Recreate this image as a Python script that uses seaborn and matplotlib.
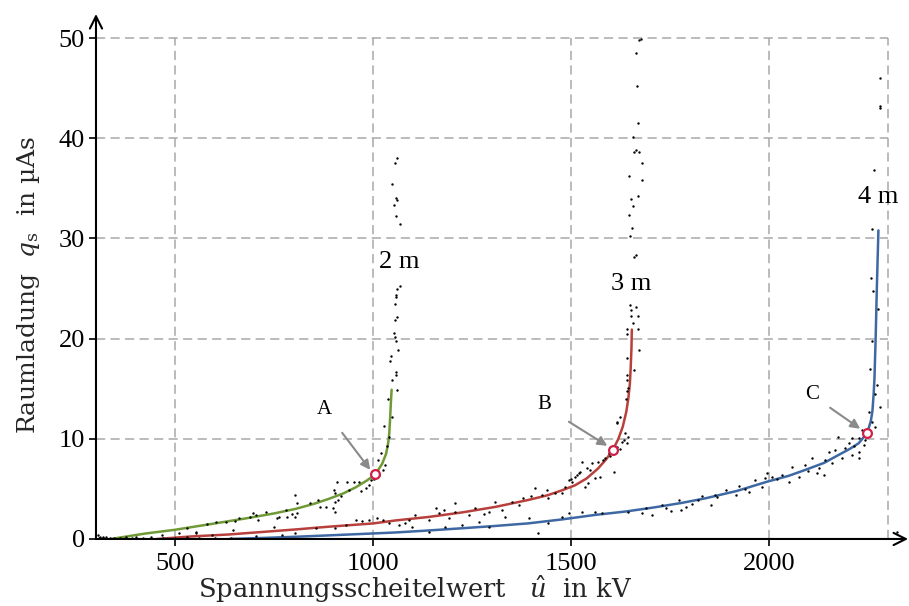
import matplotlib
matplotlib.use("Agg")
import matplotlib.pyplot as plt
import seaborn as sns
import pandas as pd

# Fitted characteristic curves q_s(u) for the three gap distances
green_x = [338, 426, 500, 552, 600, 678, 750, 804, 850, 888, 925, 956, 985, 1006,
           1023, 1033, 1038, 1041, 1043, 1045, 1047]
green_y = [0.0, 0.55, 0.92, 1.25, 1.55, 2.05, 2.55, 3.0, 3.5, 4.0, 4.55, 5.15, 5.85, 6.45,
           7.5, 8.5, 9.5, 10.5, 11.9, 13.5, 14.9]

red_x = [455, 540, 636, 720, 804, 880, 931, 1000, 1057, 1141, 1225, 1309, 1393, 1440,
         1477, 1510, 1540, 1569, 1590, 1606, 1620, 1631, 1640, 1645, 1649, 1651, 1653, 1654]
red_y = [0.0, 0.25, 0.45, 0.7, 0.95, 1.2, 1.35, 1.55, 1.85, 2.2, 2.65, 3.2, 3.9, 4.35,
         4.85, 5.35, 6.05, 7.05, 8.0, 8.88, 10.0, 11.2, 12.7, 14.0, 15.5, 17.0, 19.0, 20.9]

blue_x = [636, 720, 804, 900, 1000, 1057, 1141, 1225, 1309, 1393, 1477, 1561, 1640, 1712,
          1780, 1840, 1920, 1996, 2050, 2092, 2140, 2176, 2205, 2227, 2249, 2258, 2262,
          2265, 2267, 2270, 2273, 2277]
blue_y = [0.0, 0.1, 0.22, 0.38, 0.55, 0.65, 0.85, 1.07, 1.3, 1.56, 1.95, 2.4, 2.75, 3.16,
          3.6, 4.06, 4.8, 5.72, 6.3, 6.89, 7.6, 8.38, 9.0, 9.55, 10.6, 11.8, 12.8,
          14.5, 16.0, 20.0, 25.0, 30.8]

# Measured single discharges (u in kV, q_s in uAs)
meas_2m_x = [1060, 1056, 1047, 1058, 1061, 1052, 1058, 1068, 1068, 1061, 1057, 1057, 1056,
             1060, 1055, 1054, 1055, 1057, 1064, 1046, 1044, 1057, 1057, 1047, 1061, 1037,
             1048, 1028, 1019, 1013, 1030, 1025, 1016, 1008, 989, 983, 964, 952, 935, 910,
             901, 904, 912, 905, 899, 880, 867, 905, 804, 809, 809, 803, 796, 783, 758,
             762, 750, 729, 704, 697, 710, 661, 645, 628, 603, 552, 510, 468, 401, 317,
             304, 308, 310, 318, 325, 335, 345, 360, 375, 390,
             1035, 1040, 1003, 995, 970, 940, 920, 860, 840, 780, 690, 650, 580, 530]
meas_2m_y = [38.0, 37.5, 35.4, 34.0, 33.8, 33.3, 32.2, 31.4, 25.3, 25.0, 24.4, 24.2, 23.5,
             22.2, 21.9, 20.6, 20.2, 19.8, 18.9, 18.3, 17.8, 16.7, 16.4, 15.9, 14.9, 14.0,
             12.2, 11.3, 8.55, 7.88, 7.38, 6.88, 6.39, 6.16, 5.39, 5.06, 5.72, 5.72, 5.72,
             5.72, 4.89, 4.56, 3.89, 3.72, 3.06, 3.23, 3.16, 2.73, 4.39, 3.56, 2.56, 2.23,
             2.5, 2.23, 2.06, 2.23, 1.23, 2.73, 2.39, 2.63, 1.9, 2.06, 0.9, 1.73, 1.73,
             0.73, 0.56, 0.4, 0.17, 0.23, 0.4, 0.07, 0.15, 0.1, 0.2, 0.08, 0.12, 0.1,
             0.15, 0.08,
             9.3, 10.2, 6.0, 5.9, 4.8, 4.9, 4.3, 3.9, 3.6, 2.9, 2.2, 1.8, 1.5, 1.1]

meas_3m_x = [905, 931, 956, 973, 989, 1010, 1025, 1040, 804, 771, 704, 594, 552, 855,
             1616, 1637, 1645, 1628, 1641, 1616, 1595, 1586, 1569, 1553, 1540, 1527, 1523,
             1561, 1574, 1609, 1544, 1536, 1515, 1502, 1494, 1485, 1439, 1427, 1410, 1380,
             1351, 1309, 1326, 1258, 1208, 1208, 1166, 1158, 1107, 1090, 1065, 1082, 1141,
             1191, 1242, 1292, 1443, 1477, 1511,
             1676, 1672, 1665, 1668, 1669, 1656, 1660, 1665, 1671, 1680, 1648, 1680, 1669,
             1652, 1658, 1648, 1654, 1650, 1664, 1659, 1649, 1665, 1653, 1653, 1669, 1657,
             1643, 1670, 1641, 1672, 1641, 1660, 1642, 1643, 1645, 1643, 1638, 1624, 1617,
             420, 440, 470, 500, 530,
             1500, 1520, 1548, 1580, 1598, 1625, 1633, 1460, 1400, 1370, 1280, 1180]
meas_3m_y = [1.06, 1.4, 1.9, 1.83, 1.9, 2.06, 1.9, 1.56, 0.56, 0.4, 0.3, 0.4, 0.63, 1.06,
             11.54, 10.55, 10.21, 9.71, 9.55, 9.22, 8.55, 8.05, 7.71, 7.55, 7.05, 7.71, 6.72,
             6.05, 6.22, 6.72, 5.55, 5.22, 6.39, 5.72, 5.89, 5.22, 4.89, 4.39, 5.05, 4.06,
             3.72, 3.72, 2.89, 3.06, 3.62, 2.72, 2.56, 3.06, 2.39, 1.9, 1.39, 1.56, 1.9,
             2.06, 2.39, 2.73, 4.06, 4.56, 6.22,
             49.9, 49.8, 48.5, 45.2, 41.5, 40.1, 38.6, 38.8, 38.6, 37.5, 36.2, 35.8, 34.2,
             33.9, 33.2, 32.3, 31.0, 30.2, 28.3, 28.1, 23.4, 23.2, 22.9, 22.3, 22.3, 21.6,
             21.0, 21.0, 20.5, 18.9, 18.1, 16.9, 16.4, 15.9, 15.1, 14.8, 14.0, 12.2, 11.7,
             0.1, 0.15, 0.1, 0.12, 0.2,
             6.0, 6.6, 6.9, 7.9, 8.3, 9.0, 9.9, 4.6, 4.3, 3.4, 2.5, 2.9]

meas_4m_x = [2269, 2252, 2260, 2269, 2235, 2227, 2244, 2210, 2202, 2176, 2193, 2227, 2210,
             2227, 2168, 2151, 2143, 2126, 2139, 2122, 2109, 2092, 2059, 2076, 2050, 2034,
             2008, 1996, 1991, 1966, 1983, 1949, 1924, 1916, 1891, 1865, 1853, 1832, 1807,
             1790, 1773, 1777, 1752, 1731, 1706, 1689, 2324,
             1418, 1334, 1393, 1443, 1477, 1494, 1527, 1561, 1578, 1645, 1679, 1183, 1225,
             1267, 1141, 1099, 1292, 560, 600, 640,
             2282, 2280, 2280, 2267, 2262, 2258, 2263, 2275, 2262, 2257, 2274, 2280,
             2240, 2215, 2185, 2160, 2100, 2020, 1940, 1870, 1820, 1740]
meas_4m_y = [14.5, 12.7, 11.7, 11.2, 10.9, 10.04, 9.88, 10.04, 9.55, 10.2, 9.05, 8.72, 8.38,
             8.05, 8.88, 8.72, 7.88, 7.05, 6.39, 6.55, 8.05, 7.38, 7.22, 6.22, 5.72, 6.39,
             6.22, 6.55, 6.05, 5.89, 5.22, 4.72, 5.29, 4.39, 4.89, 4.39, 3.39, 4.29, 3.49,
             3.22, 3.89, 2.89, 2.83, 3.39, 2.39, 3.06, 0.73,
             0.63, 2.23, 2.06, 1.56, 2.23, 2.56, 2.73, 2.73, 2.56, 2.73, 2.63, 1.23, 1.39,
             1.73, 0.73, 1.23, 1.23, 0.1, 0.12, 0.08,
             46.0, 43.2, 43.0, 36.8, 30.9, 26.0, 24.8, 23.0, 19.8, 17.0, 15.4, 13.2,
             9.4, 9.3, 8.1, 7.6, 6.8, 6.0, 5.0, 4.2, 3.9, 3.1]

# Marked operating points A, B, C
point_label = ["A", "B", "C"]
point_x = [1006, 1606, 2249]
point_y = [6.45, 8.88, 10.6]

gap_label = ["2 m", "3 m", "4 m"]
gap_label_x = [1067, 1652, 2277]
gap_label_y = [27.6, 25.5, 34.1]

xticks = [500, 1000, 1500, 2000]
yticks = [0, 10, 20, 30, 40, 50]

sns.set_theme(style="white")
plt.rcParams["font.family"] = ["Liberation Serif", "DejaVu Serif"]
plt.rcParams["mathtext.fontset"] = "dejavuserif"

fig = plt.figure(figsize=(9.09, 6.06), dpi=100)
ax = fig.add_axes([0.1056, 0.1106, 0.8934, 0.8663])

X0, X1, Y0, Y1 = 300, 2352, 0, 52.4
ax.set_xlim(X0, X1)
ax.set_ylim(Y0, Y1)

# dashed grid framed at 2300 kV / 50 uAs
grid_kw = dict(colors="#a8a8a8", linewidth=1.1, linestyles=(0, (6, 3.5)), zorder=0)
ax.hlines([10, 20, 30, 40, 50], 300, 2300, **grid_kw)
ax.vlines([500, 1000, 1500, 2000, 2300], 0, 50, **grid_kw)

curves = pd.concat([
    pd.DataFrame({"u": green_x, "q": green_y, "gap": "2 m"}),
    pd.DataFrame({"u": red_x, "q": red_y, "gap": "3 m"}),
    pd.DataFrame({"u": blue_x, "q": blue_y, "gap": "4 m"}),
], ignore_index=True)
palette = {"2 m": "#6f9a35", "3 m": "#b8403c", "4 m": "#3e68a3"}
sns.lineplot(data=curves, x="u", y="q", hue="gap", palette=palette, sort=False,
             estimator=None, linewidth=1.8, legend=False, ax=ax, zorder=3)

meas = pd.DataFrame({
    "u": meas_2m_x + meas_3m_x + meas_4m_x,
    "q": meas_2m_y + meas_3m_y + meas_4m_y,
})
sns.scatterplot(data=meas, x="u", y="q", color="black", s=3, linewidth=0,
                legend=False, ax=ax, zorder=4)

sns.scatterplot(x=point_x, y=point_y, marker="o", s=40, facecolor="white",
                edgecolor="#d11e48", linewidth=1.6, legend=False, ax=ax, zorder=6)

# arrows pointing at the marked points
label_pos = [(878, 12.9), (1432, 13.4), (2109, 14.4)]
arrow_from = [(922, 10.6), (1495, 11.7), (2155, 13.1)]
arrow_to = [(993, 6.9), (1592, 9.3), (2231, 11.0)]
for lab, (lx, ly), (ax0, ay0), (ax1, ay1) in zip(point_label, label_pos, arrow_from, arrow_to):
    ax.text(lx, ly, lab, fontsize=15, ha="center", va="center", color="black")
    ax.annotate("", xy=(ax1, ay1), xytext=(ax0, ay0),
                arrowprops=dict(arrowstyle="-|>", color="#8a8a8a", lw=1.5,
                                mutation_scale=14, shrinkA=0, shrinkB=0), zorder=5)

for lab, gx, gy in zip(gap_label, gap_label_x, gap_label_y):
    ax.text(gx, gy, lab, fontsize=19, ha="center", va="center", color="black")

# axes drawn as arrows
for s in ax.spines.values():
    s.set_visible(False)
arrow_kw = dict(arrowstyle="->", color="black", lw=1.5, mutation_scale=22,
                shrinkA=0, shrinkB=0)
ax.annotate("", xy=(X1, 0), xytext=(X0, 0), arrowprops=arrow_kw,
            annotation_clip=False, zorder=7)
ax.annotate("", xy=(X0, Y1), xytext=(X0, 0), arrowprops=arrow_kw,
            annotation_clip=False, zorder=7)

ax.set_xticks(xticks)
ax.set_yticks(yticks)
ax.tick_params(axis="both", direction="out", length=5, width=1.2, colors="black",
               labelsize=19, pad=3)
ax.tick_params(axis="x", bottom=True, pad=5)
ax.tick_params(axis="y", left=True)
ax.set_xlabel("")
ax.set_ylabel("")

label_font = ["DejaVu Serif"]
ax.text(0.393, -0.112, "Spannungsscheitelwert   $\\hat{u}$  in kV", transform=ax.transAxes,
        fontsize=18.5, ha="center", va="baseline", family=label_font)
ax.text(-0.0837, 0.484, "Raumladung  $q_\\mathrm{s}$  in µAs", transform=ax.transAxes,
        fontsize=18, ha="center", va="center", rotation=90, family=label_font)

fig.savefig("out.png", dpi=100)
